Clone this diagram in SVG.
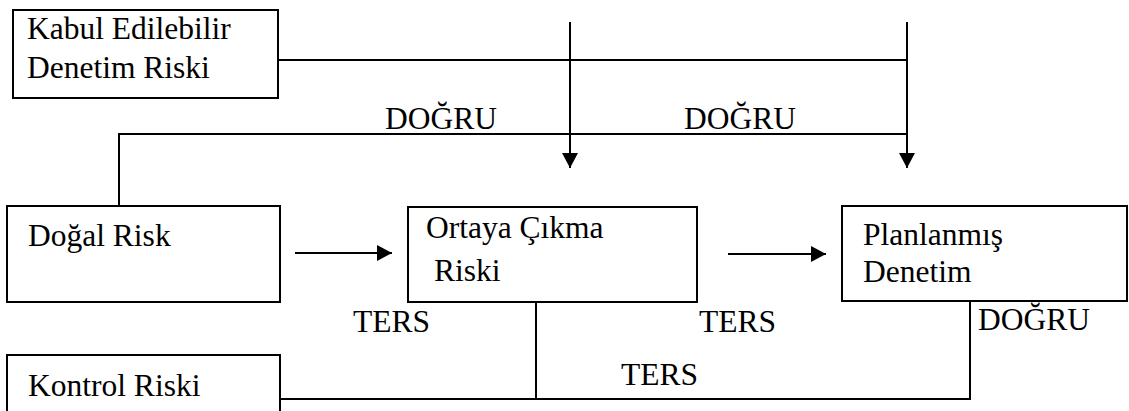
<svg xmlns="http://www.w3.org/2000/svg" width="1129" height="411" viewBox="0 0 1129 411">
<style>
  .box { fill: #fff; stroke: #000; stroke-width: 2; }
  .ln { fill: none; stroke: #000; stroke-width: 2; }
  .t { font-family: 'Liberation Serif', serif; font-size: 31.5px; fill: #000; }
</style>
<defs>
  <marker id="ah" markerUnits="userSpaceOnUse" viewBox="0 0 15 16" refX="15" refY="8" markerWidth="15" markerHeight="16" orient="auto">
    <path d="M0,0 L15,8 L0,16 z" fill="#000"/>
  </marker>
</defs>
<rect width="1129" height="411" fill="#fff"/>
<g id="connectors">
  <polyline class="ln" points="279,60 907,60"/>
  <line class="ln" x1="570" y1="22" x2="570" y2="168" marker-end="url(#ah)"/>
  <line class="ln" x1="907" y1="22" x2="907" y2="168" marker-end="url(#ah)"/>
  <polyline class="ln" points="119,206 119,134 907,134"/>
  <line class="ln" x1="295" y1="253" x2="392" y2="253" marker-end="url(#ah)"/>
  <line class="ln" x1="728" y1="254" x2="826" y2="254" marker-end="url(#ah)"/>
  <line class="ln" x1="536" y1="302" x2="536" y2="399"/>
  <polyline class="ln" points="280,399 970,399 970,301"/>
  <text class="t" x="385" y="129">DOĞRU</text>
  <text class="t" x="684" y="129">DOĞRU</text>
  <text class="t" x="353" y="332">TERS</text>
  <text class="t" x="699" y="332">TERS</text>
  <text class="t" x="978" y="330">DOĞRU</text>
  <text class="t" x="621" y="385">TERS</text>
</g>
<g id="kabul">
  <rect class="box" x="13" y="10" width="265" height="88"/>
  <text class="t" x="27" y="39">Kabul Edilebilir</text>
  <text class="t" x="27" y="78">Denetim Riski</text>
</g>
<g id="dogal">
  <rect class="box" x="7" y="206" width="273" height="96"/>
  <text class="t" x="28" y="246">Doğal Risk</text>
</g>
<g id="ortaya">
  <rect class="box" x="408" y="207" width="289" height="95"/>
  <text class="t" x="426" y="238">Ortaya Çıkma</text>
  <text class="t" x="434" y="281">Riski</text>
</g>
<g id="planlanmis">
  <rect class="box" x="842" y="206" width="285" height="95"/>
  <text class="t" x="863" y="245">Planlanmış</text>
  <text class="t" x="863" y="282">Denetim</text>
</g>
<g id="kontrol">
  <rect class="box" x="7" y="355" width="273" height="80"/>
  <text class="t" x="28" y="396">Kontrol Riski</text>
</g>
</svg>
